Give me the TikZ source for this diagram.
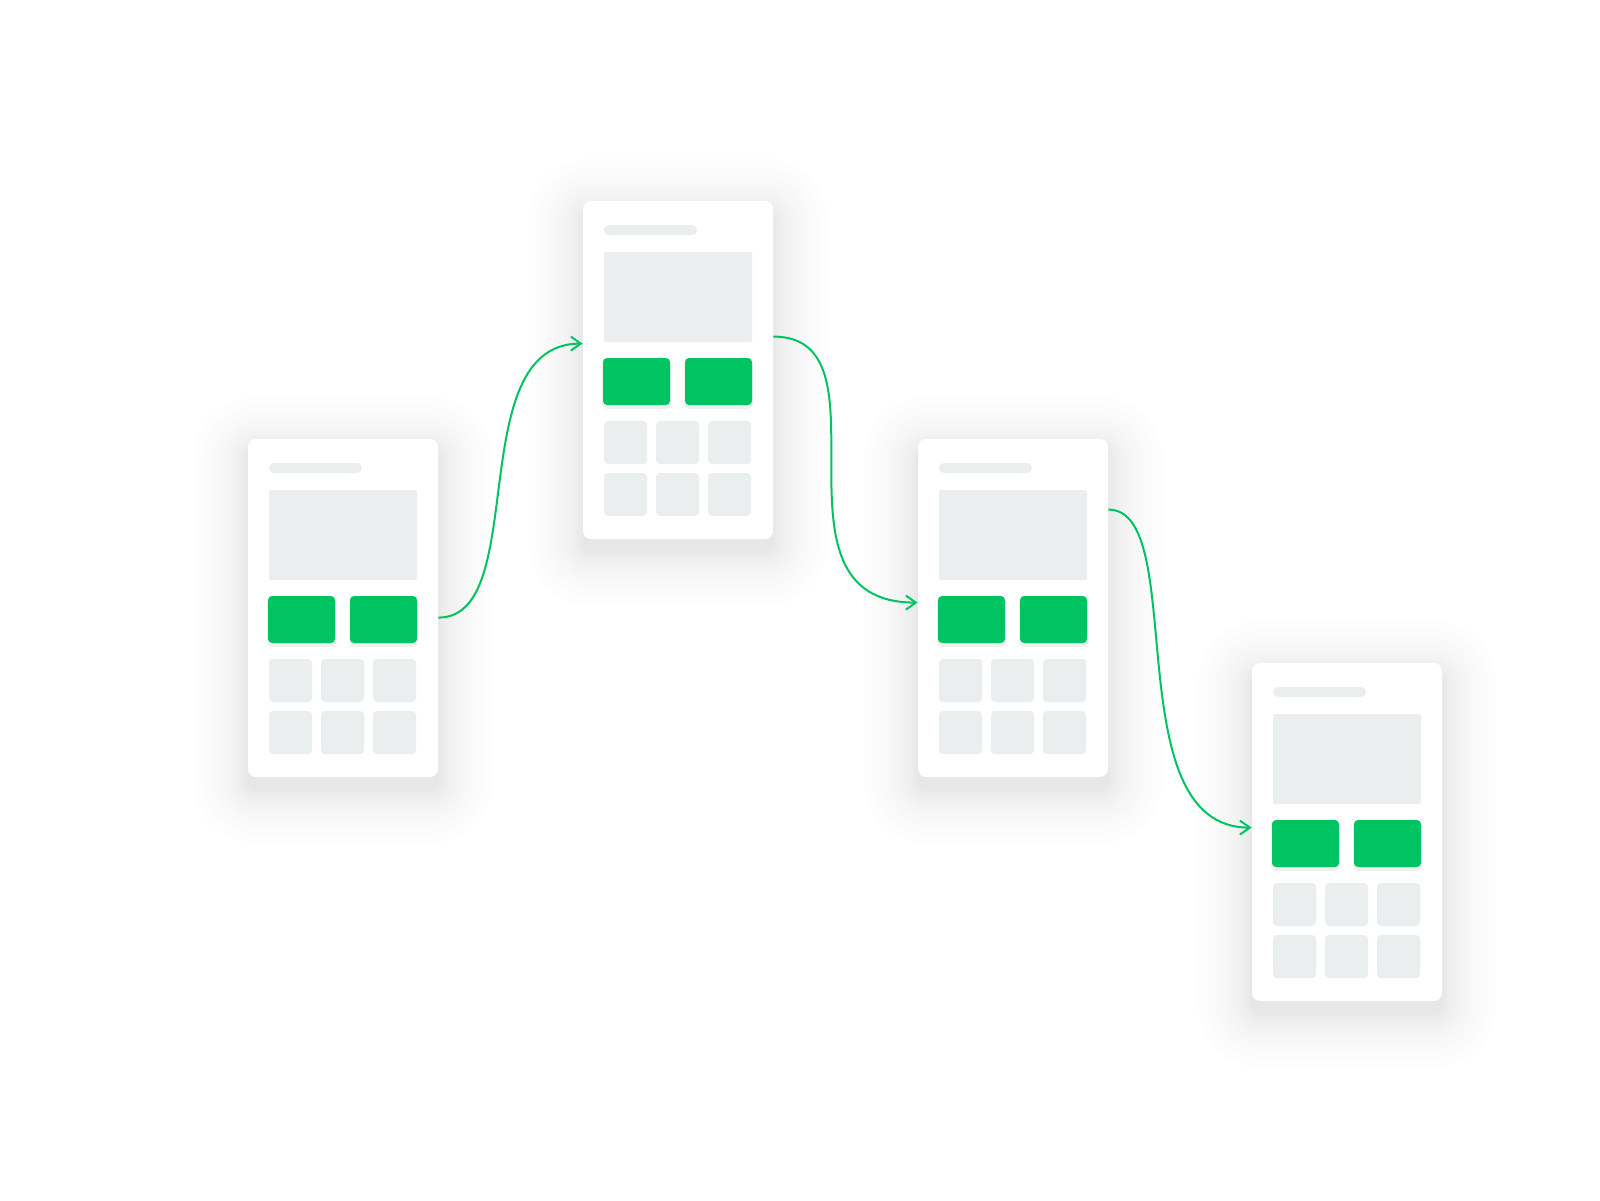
\documentclass[tikz,border=0pt]{standalone}
\usepackage{tikz}
\usepackage{xcolor}
\usetikzlibrary{arrows.meta,calc}

\definecolor{appgreen}{RGB}{0,196,98}
\definecolor{blockgrey}{RGB}{235,238,239}

\begin{document}
\begin{tikzpicture}[x=0.5pt,y=-0.5pt,
    card/.style={rectangle,rounded corners=4pt,fill=white,inner sep=0pt,
      minimum width=95pt,minimum height=169pt},
    block/.style={fill=blockgrey},
    btn/.style={fill=appgreen,rounded corners=2pt},
    link/.style={draw=appgreen,line width=1pt,-{Straight Barb[length=5pt,width=7pt]}}]
    \fill[white] (0,0) rectangle (1600,1200);
    \useasboundingbox (0,0) rectangle (1600,1200);
    % four phone screens
    \foreach \n/\cx/\cy in {p1/343/608, p2/678/370, p3/1013/608, p4/1347/832} {
        % soft shadow
        \foreach \s in {1,3,5,8,11,15,19,24,30,37,45,54}
            \fill[black,opacity=0.0065,rounded corners=4pt+0.5*\s pt]
                (\cx-95-\s,\cy-169-\s+12) rectangle (\cx+95+\s,\cy+169+\s+12);
        \node[card] (\n) at (\cx,\cy) {};
        \begin{scope}[shift={(\cx-95,\cy-169)}]
            \fill[block,rounded corners=2.5pt] (21,24) rectangle (114,34);
            \fill[block,rounded corners=1pt] (21,51) rectangle (169,141);
            \fill[black,opacity=0.06,rounded corners=3pt] (19,159) rectangle (88,208);
            \fill[black,opacity=0.06,rounded corners=3pt] (101,159) rectangle (170,208);
            \fill[btn] (20,157) rectangle (87,204);
            \fill[btn] (102,157) rectangle (169,204);
            \foreach \gx in {21,73,125}
                \foreach \gy in {220,272}
                    \fill[block,rounded corners=2pt] (\gx,\gy) rectangle ++(43,43);
        \end{scope}
    }
    % flow between screens
    \draw[link] ($(p1.north east)+(0,179)$) .. controls +(93,0) and +(-121,0) .. ($(p2.north west)+(0,143)$);
    \draw[link] ($(p2.north east)+(0,136)$) .. controls +(124,0) and +(-161,0) .. ($(p3.north west)+(0,164)$);
    \draw[link] ($(p3.north east)+(0,71)$) .. controls +(82,0) and +(-137,0) .. ($(p4.north west)+(0,165)$);
\end{tikzpicture}
\end{document}
